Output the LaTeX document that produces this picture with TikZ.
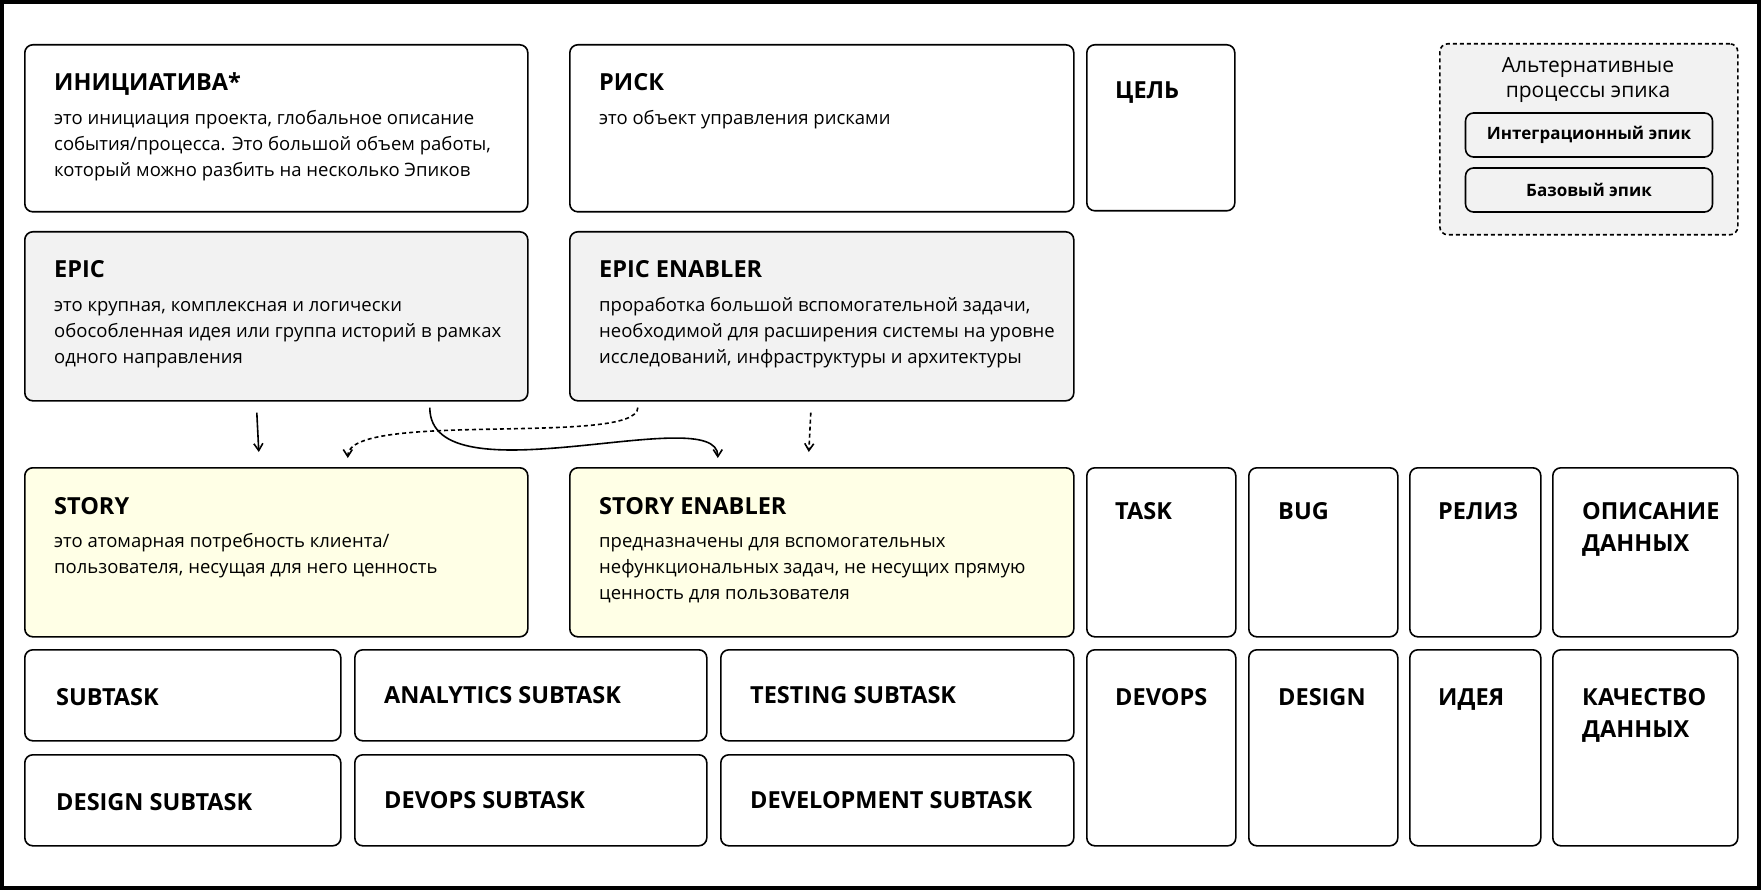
\documentclass[tikz,border=0pt]{standalone}
\usepackage{fontspec}
\setmainfont{Open Sans}
\usetikzlibrary{arrows.meta,positioning}

\definecolor{epicgray}{HTML}{F2F2F2}
\definecolor{storyyellow}{HTML}{FFFFE6}

\begin{document}
\begin{tikzpicture}[x=1pt, y=-1pt, >={Straight Barb[length=7pt,width=9pt]},
    card/.style={draw, line width=1.6pt, rounded corners=8pt, anchor=north west, inner sep=0pt},
    head/.style={anchor=base west, inner sep=0pt, font=\fontsize{23.5}{32}\selectfont\bfseries},
    desc/.style={anchor=north west, inner sep=0pt, align=left, font=\fontsize{18.5}{26}\selectfont},
    link/.style={->, line width=1.6pt},
    dlink/.style={->, line width=1.6pt, dash pattern=on 4pt off 3pt}]
    \useasboundingbox (0,0) rectangle (1761,890);
    \draw[line width=3.5pt] (2,2) rectangle (1759,888);

    % We start by placing the blocks
    \node[card, minimum width=503pt, minimum height=167pt] (init) at (24,44) {};
    \node[card, minimum width=504pt, minimum height=167pt] (risk) at (569,44) {};
    \node[card, minimum width=148pt, minimum height=166pt] (goal) at (1086,44) {};
    \node[card, fill=epicgray, minimum width=503pt, minimum height=169pt] (epic) at (24,231) {};
    \node[card, fill=epicgray, minimum width=504pt, minimum height=169pt] (epicen) at (569,231) {};
    \node[card, fill=storyyellow, minimum width=503pt, minimum height=169pt] (story) at (24,467) {};
    \node[card, fill=storyyellow, minimum width=504pt, minimum height=169pt] (storyen) at (569,467) {};

    \node[card, minimum width=149pt, minimum height=169pt] (task) at (1086,467) {};
    \node[card, minimum width=149pt, minimum height=169pt] (bug) at (1248,467) {};
    \node[card, minimum width=131pt, minimum height=169pt] (release) at (1409,467) {};
    \node[card, minimum width=185pt, minimum height=169pt] (datadesc) at (1552,467) {};
    \node[card, minimum width=149pt, minimum height=196pt] (devops) at (1086,649) {};
    \node[card, minimum width=149pt, minimum height=196pt] (design) at (1248,649) {};
    \node[card, minimum width=131pt, minimum height=196pt] (idea) at (1409,649) {};
    \node[card, minimum width=185pt, minimum height=196pt] (dataqa) at (1552,649) {};

    \node[card, minimum width=316pt, minimum height=91pt] (subtask) at (24,649) {};
    \node[card, minimum width=352pt, minimum height=91pt] (analytics) at (354,649) {};
    \node[card, minimum width=353pt, minimum height=91pt] (testing) at (720,649) {};
    \node[card, minimum width=316pt, minimum height=91pt] (designsub) at (24,754) {};
    \node[card, minimum width=352pt, minimum height=91pt] (devopssub) at (354,754) {};
    \node[card, minimum width=353pt, minimum height=91pt] (devsub) at (720,754) {};

    % alternative epic processes
    \node[card, fill=epicgray, dash pattern=on 4pt off 3pt, minimum width=298pt, minimum height=191pt] (alt) at (1439,43) {};
    \node[align=center, inner sep=0pt, font=\fontsize{21}{25}\selectfont] (altT) at (1588,80) {Альтернативные\\процессы эпика};
    \node[card, anchor=center, fill=epicgray, minimum width=247pt, minimum height=44pt, font=\fontsize{17}{20}\selectfont\bfseries] (integ) at (1589,135) {Интеграционный эпик};
    \node[card, anchor=center, fill=epicgray, minimum width=247pt, minimum height=44pt, font=\fontsize{17}{20}\selectfont\bfseries] (base) at (1589,190) {Базовый эпик};

    % titles and texts
    \node[head] (initT) at ([shift={(30,47)}]init.north west) {ИНИЦИАТИВА*};
    \node[desc] (initD) at ([shift={(30,62.5)}]init.north west) {\strut это инициация проекта, глобальное описание\\события/процесса. Это большой объем работы,\\который можно разбить на несколько Эпиков};
    \node[head] (riskT) at ([shift={(30,47)}]risk.north west) {РИСК};
    \node[desc] (riskD) at ([shift={(30,62.5)}]risk.north west) {\strut это объект управления рисками};
    \node[head] (goalT) at ([shift={(29,55)}]goal.north west) {ЦЕЛЬ};
    \node[head] (epicT) at ([shift={(30,47)}]epic.north west) {EPIC};
    \node[desc] (epicD) at ([shift={(30,62.5)}]epic.north west) {\strut это крупная, комплексная и логически\\обособленная идея или группа историй в рамках\\одного направления};
    \node[head] (epicenT) at ([shift={(30,47)}]epicen.north west) {EPIC ENABLER};
    \node[desc] (epicenD) at ([shift={(30,62.5)}]epicen.north west) {\strut проработка большой вспомогательной задачи,\\необходимой для расширения системы на уровне\\исследований, инфраструктуры и архитектуры};
    \node[head] (storyT) at ([shift={(30,47)}]story.north west) {STORY};
    \node[desc] (storyD) at ([shift={(30,62.5)}]story.north west) {\strut это атомарная потребность клиента/\\пользователя, несущая для него ценность};
    \node[head] (storyenT) at ([shift={(30,47)}]storyen.north west) {STORY ENABLER};
    \node[desc] (storyenD) at ([shift={(30,62.5)}]storyen.north west) {\strut предназначены для вспомогательных\\нефункциональных задач, не несущих прямую\\ценность для пользователя};

    \node[head] (taskT) at ([shift={(29,52)}]task.north west) {TASK};
    \node[head] (bugT) at ([shift={(30,52)}]bug.north west) {BUG};
    \node[head] (releaseT) at ([shift={(29,52)}]release.north west) {РЕЛИЗ};
    \node[head, anchor=north west, align=left] (datadescT) at ([shift={(30,35)}]datadesc.north west) {ОПИСАНИЕ\\ДАННЫХ};
    \node[head] (devopsT) at ([shift={(29,56)}]devops.north west) {DEVOPS};
    \node[head] (designT) at ([shift={(30,56)}]design.north west) {DESIGN};
    \node[head] (ideaT) at ([shift={(29,56)}]idea.north west) {ИДЕЯ};
    \node[head, anchor=north west, align=left] (dataqaT) at ([shift={(30,39)}]dataqa.north west) {КАЧЕСТВО\\ДАННЫХ};

    \node[head] (subtaskT) at ([shift={(32,10)}]subtask.west) {SUBTASK};
    \node[head] (analyticsT) at ([shift={(30,8)}]analytics.west) {ANALYTICS SUBTASK};
    \node[head] (testingT) at ([shift={(30,8)}]testing.west) {TESTING SUBTASK};
    \node[head] (designsubT) at ([shift={(32,10)}]designsub.west) {DESIGN SUBTASK};
    \node[head] (devopssubT) at ([shift={(30,8)}]devopssub.west) {DEVOPS SUBTASK};
    \node[head] (devsubT) at ([shift={(30,8)}]devsub.west) {DEVELOPMENT SUBTASK};

    % connectors
    \draw[link] ([shift={(-19.5,11)}]epic.south) to ([shift={(-17.5,-15)}]story.north);
    \draw[link] ([shift={(153.5,6)}]epic.south) .. controls +(0,95) and +(0,-58) .. ([shift={(-104,-9)}]storyen.north);
    \draw[dlink] ([shift={(-184,6)}]epicen.south) .. controls +(0,39) and +(0,-48) .. ([shift={(71.5,-9)}]story.north);
    \draw[dlink] ([shift={(-11,11)}]epicen.south) to ([shift={(-13,-15)}]storyen.north);
\end{tikzpicture}
\end{document}
